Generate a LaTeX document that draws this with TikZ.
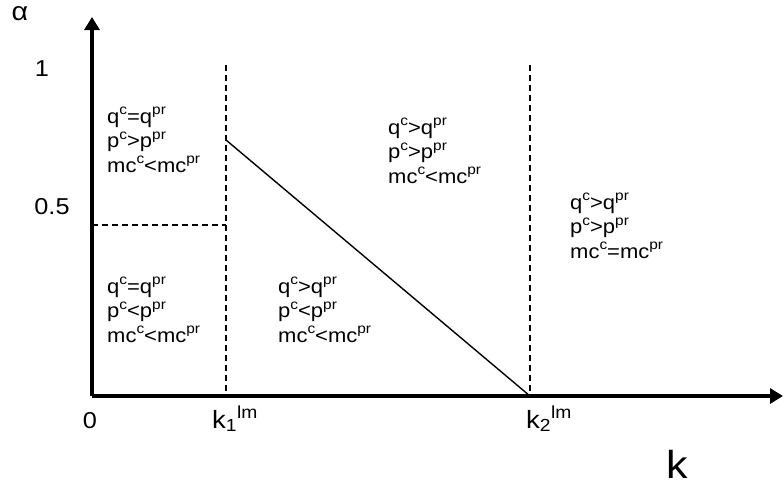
\documentclass[tikz,border=0pt]{standalone}
\usepackage{fontspec}
\setmainfont{Liberation Sans}[FakeStretch=1.1]
\usetikzlibrary{arrows.meta}
\newcommand{\sups}[1]{\raisebox{0.42em}{\fontsize{14}{14}\selectfont #1}}
\begin{document}
\begin{tikzpicture}[x=1pt,y=-1pt,
  axis/.style={line width=3.2pt,-{Triangle[length=13pt,width=15pt]}},
  dashline/.style={line width=2.2pt,dash pattern=on 6pt off 4pt},
  region/.style={anchor=north west,inner sep=0pt,align=left,font=\fontsize{20}{24.5}\selectfont},
  axlabel/.style={inner sep=0pt,font=\fontsize{23}{26}\selectfont}]
\useasboundingbox (0,0) rectangle (783,488);
\coordinate (O) at (92,396);
\coordinate (ytop) at (92,17);
\coordinate (xend) at (783,396);
\coordinate (k1top) at (226,65);
\coordinate (k1) at (226,396);
\coordinate (k2top) at (530,65);
\coordinate (k2) at (530,396);
\coordinate (half0) at (92,225);
\coordinate (half1) at (226,225);
\coordinate (diag) at (226,140);
\draw[axis] (O) -- (ytop);
\draw[axis] (O) -- (xend);
\draw[dashline] (k1top) -- (k1);
\draw[dashline] (k2top) -- (k2);
\draw[dashline] (half0) -- (half1);
\draw[line width=1.4pt] (diag) -- (k2);
\node[axlabel,font=\fontsize{26}{28}\selectfont] (alpha) at (20,14) {α};
\node[axlabel] (one) at (42,69) {1};
\node[axlabel] (half) at (52,207) {0.5};
\node[axlabel] (zero) at (90,421) {0};
\node[axlabel,anchor=base west,font=\fontsize{25}{28}\selectfont] (k1lab) at (212,428) {k\textsubscript{1}\textsuperscript{lm}};
\node[axlabel,anchor=base west,font=\fontsize{25}{28}\selectfont] (k2lab) at (526,428) {k\textsubscript{2}\textsuperscript{lm}};
\node[axlabel,anchor=base west,font=\fontsize{39}{40}\selectfont] (klab) at (666,478) {k};
\node[region] (r1) at (107,107) {q\sups{c}=q\sups{pr}\\p\sups{c}>p\sups{pr}\\mc\sups{c}<mc\sups{pr}};
\node[region] (r2) at (107,277) {q\sups{c}=q\sups{pr}\\p\sups{c}<p\sups{pr}\\mc\sups{c}<mc\sups{pr}};
\node[region] (r3) at (278,277) {q\sups{c}>q\sups{pr}\\p\sups{c}<p\sups{pr}\\mc\sups{c}<mc\sups{pr}};
\node[region] (r4) at (388,118) {q\sups{c}>q\sups{pr}\\p\sups{c}>p\sups{pr}\\mc\sups{c}<mc\sups{pr}};
\node[region] (r5) at (570,193) {q\sups{c}>q\sups{pr}\\p\sups{c}>p\sups{pr}\\mc\sups{c}=mc\sups{pr}};
\end{tikzpicture}
\end{document}
